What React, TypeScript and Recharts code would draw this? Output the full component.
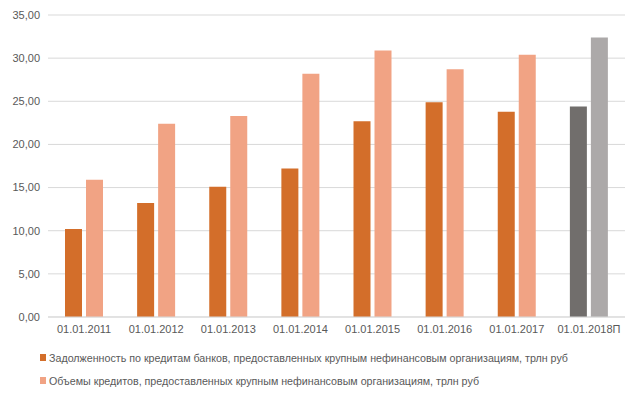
import React from 'react';
import { BarChart, Bar, XAxis, YAxis, CartesianGrid, Cell } from 'recharts';

const categories = ['01.01.2011', '01.01.2012', '01.01.2013', '01.01.2014', '01.01.2015', '01.01.2016', '01.01.2017', '01.01.2018П'];
const debtValues = [10.2, 13.2, 15.1, 17.2, 22.7, 24.9, 23.8, 24.4];
const volumeValues = [15.9, 22.4, 23.3, 28.2, 30.9, 28.7, 30.4, 32.4];
const yTicks = [0, 5, 10, 15, 20, 25, 30, 35];
const seriesNames = [
  'Задолженность по кредитам банков, предоставленных крупным нефинансовым организациям, трлн руб',
  'Объемы кредитов, предоставленных крупным нефинансовым организациям, трлн руб',
];
const forecastCategory = '01.01.2018П';

const colors = {
  debt: '#D36E2A',
  volume: '#F1A384',
  debtForecast: '#716E6C',
  volumeForecast: '#ACA9A9',
  grid: '#D9D9D9',
  text: '#595959',
};

const data = categories.map((c, i) => ({ label: c, debt: debtValues[i], volume: volumeValues[i] }));

const fontFamily = '"Liberation Sans", Arial, sans-serif';

const ChartLegend = () => (
  <div style={{ position: 'absolute', left: 40, top: 346, fontFamily, fontSize: 10.7, color: colors.text }}>
    {seriesNames.map((name, i) => (
      <div key={name} style={{ display: 'flex', alignItems: 'center', height: 23, whiteSpace: 'nowrap' }}>
        <span style={{ display: 'inline-block', width: 6, height: 7, background: i === 0 ? colors.debt : colors.volume, marginRight: 3 }} />
        <span>{name}</span>
      </div>
    ))}
  </div>
);

const App: React.FC = () => {
  return (
    <div style={{ position: 'absolute', left: 0, top: 0, width: 640, height: 401, background: '#fff' }}>
      <BarChart
        width={640}
        height={401}
        data={data}
        margin={{ top: 15, right: 15, left: 0, bottom: 54 }}
        barSize={17}
        barGap={4}
      >
        <CartesianGrid vertical={false} stroke={colors.grid} strokeWidth={1} />
        <XAxis
          dataKey="label"
          axisLine={{ stroke: colors.grid }}
          tickLine={false}
          tick={{ fontSize: 11, fill: colors.text, fontFamily }}
          interval={0}
          height={30}
        />
        <YAxis
          width={48}
          domain={[0, 35]}
          ticks={yTicks}
          axisLine={false}
          tickLine={false}
          tick={{ fontSize: 11, fill: colors.text, fontFamily }}
          tickFormatter={(v: number) => v.toFixed(2).replace('.', ',')}
        />
        <Bar dataKey="debt" name={seriesNames[0]} fill={colors.debt} isAnimationActive={false}>
          {data.map(d => (
            <Cell key={d.label} fill={d.label === forecastCategory ? colors.debtForecast : colors.debt} />
          ))}
        </Bar>
        <Bar dataKey="volume" name={seriesNames[1]} fill={colors.volume} isAnimationActive={false}>
          {data.map(d => (
            <Cell key={d.label} fill={d.label === forecastCategory ? colors.volumeForecast : colors.volume} />
          ))}
        </Bar>
      </BarChart>
      <ChartLegend />
    </div>
  );
};

export default App;
